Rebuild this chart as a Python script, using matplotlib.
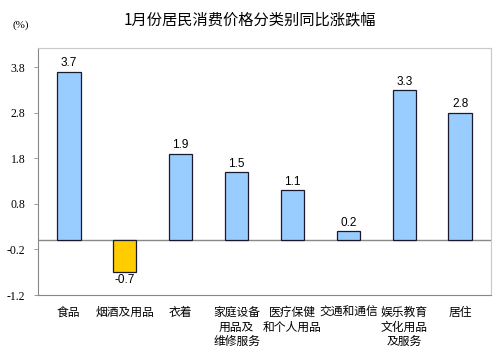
import matplotlib
matplotlib.use("Agg")
import matplotlib.pyplot as plt

plt.rcParams['font.family'] = ['Noto Sans CJK SC', 'DejaVu Sans']

categories = ["食品", "烟酒及用品", "衣着", "家庭设备\n用品及\n维修服务", "医疗保健\n和个人用品",
              "交通和通信", "娱乐教育\n文化用品\n及服务", "居住"]
values = [3.7, -0.7, 1.9, 1.5, 1.1, 0.2, 3.3, 2.8]
yticks = [-1.2, -0.2, 0.8, 1.8, 2.8, 3.8]
title = "1月份居民消费价格分类别同比涨跌幅"

fig = plt.figure(figsize=(5, 3.55), dpi=100)
ax = fig.add_axes([0.076, 0.169, 0.906, 0.696])

x = list(range(len(categories)))
colors = ["#99CCFF" if v >= 0 else "#FFCC00" for v in values]
ax.bar(x, values, width=0.42, color=colors, edgecolor="#1a1a2e", linewidth=0.9, zorder=3)
ax.axhline(0, color="#888888", linewidth=1.0, zorder=2)

for xi, v in zip(x, values):
    if v >= 0:
        ax.text(xi, v + 0.05, f"{v:.1f}", ha="center", va="bottom", fontsize=8.5,
                family=["Liberation Sans", "DejaVu Sans"])
    else:
        ax.text(xi, v - 0.05, f"{v:.1f}", ha="center", va="top", fontsize=8.5,
                family=["Liberation Sans", "DejaVu Sans"])

ax.set_xlim(-0.55, len(categories) - 0.45)
ax.set_ylim(-1.2, 4.22)
ax.set_yticks(yticks)
ax.set_yticklabels([f"{t:.1f}" for t in yticks], family=["Liberation Serif"], fontsize=8.5)
ax.tick_params(axis="y", length=3, width=0.6, color="#888888", pad=6)
ax.set_xticks(x)
ax.set_xticklabels(categories, fontsize=8.5, linespacing=1.15, va="top")
ax.tick_params(axis="x", length=0, pad=8)

for s in ["left", "bottom"]:
    ax.spines[s].set_color("#888888")
    ax.spines[s].set_linewidth(0.8)
for s in ["top", "right"]:
    ax.spines[s].set_color("#c8c8c8")
    ax.spines[s].set_linewidth(0.8)

fig.text(0.5, 0.945, title, ha="center", va="center", fontsize=11)
fig.text(0.042, 0.93, "(%)", ha="center", va="center", fontsize=8,
         family=["Liberation Serif"])

fig.savefig("out.png", dpi=100)
